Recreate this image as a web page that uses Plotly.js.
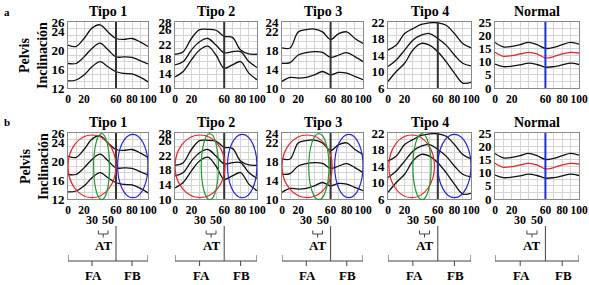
<!DOCTYPE html>
<html><head><meta charset="utf-8">
<script src="https://cdn.plot.ly/plotly-3.0.1.min.js"></script>
<style>body{margin:0;background:#fff}#chart{width:589px;height:285px}</style>
</head><body><div id="chart"></div>
<script>
// ---- data ----
const pct = [0, 10, 20, 30, 40, 50, 60, 70, 80, 90, 100];
const titles = ['Tipo 1', 'Tipo 2', 'Tipo 3', 'Tipo 4', 'Normal'];

const tipo1Top = [21.1, 20.8, 22.5, 24.7, 25.4, 23.9, 22.5, 22.3, 22.5, 21.8, 20.8];
const tipo1Mid = [17.2, 17.2, 18.6, 20.4, 21.5, 20.1, 18.6, 18.6, 18.5, 17.8, 17.1];
const tipo1Low = [13.5, 13.7, 14.75, 16.5, 17.6, 16.5, 15.45, 15.1, 15.0, 14.3, 13.3];

const tipo2Top = [19.2, 19.9, 23.5, 25.9, 26.0, 25.75, 24.1, 23.8, 20.35, 19.3, 19.2];
const tipo2Mid = [16.3, 17.2, 20.35, 22.6, 23.5, 21.7, 19.6, 19.9, 19.9, 17.2, 15.6];
const tipo2Low = [13.0, 14.5, 17.65, 20.35, 21.4, 19.0, 15.4, 16.3, 17.2, 14.05, 12.25];

const tipo3Top = [18.5, 18.5, 21.9, 22.4, 22.5, 21.9, 20.3, 21.55, 21.9, 20.5, 19.45];
const tipo3Mid = [15.25, 15.4, 17.0, 17.5, 17.7, 17.55, 16.5, 17.0, 17.5, 16.65, 15.6];
const tipo3Low = [11.4, 12.25, 12.1, 12.25, 12.8, 13.5, 12.8, 13.3, 13.15, 12.45, 11.75];

const tipo4Top = [15.2, 16.4, 19.2, 20.4, 21.4, 21.8, 21.8, 21.2, 19.2, 16.8, 15.75];
const tipo4Mid = [11.2, 12.8, 15.2, 17.6, 18.8, 19.2, 18.0, 16.4, 14.0, 12.0, 11.35];
const tipo4Low = [7.6, 10.0, 12.0, 15.2, 16.8, 16.4, 14.8, 12.4, 9.6, 7.2, 7.35];

const normalTop = [17.25, 15.6, 15.75, 16.4, 17.25, 16.4, 15.0, 15.4, 16.4, 17.25, 16.6];
const normalMid = [13.5, 12.0, 12.25, 12.9, 13.5, 12.9, 11.4, 11.9, 12.9, 13.5, 13.25];
const normalLow = [9.1, 8.1, 8.25, 8.75, 9.4, 8.9, 7.9, 8.1, 8.75, 9.4, 8.9];

const yRanges = [[12, 26], [10, 28], [10, 24], [6, 22], [0, 25]];
const yTickVals = [
  [12, 16, 20, 24, 26],
  [10, 14, 18, 22, 26, 28],
  [10, 14, 18, 22, 24],
  [6, 10, 14, 18, 22],
  [0, 5, 10, 15, 20, 25]
];
const xTickVals = [0, 20, 60, 80, 100];
const phaseSplit = 60;            // toe-off at 60 %
const atLabels = [30, 50];        // "30 50"
const atSpan = [38, 50];          // AT bracket
const faTick = 30, fbTick = 80;   // FA / FB bracket ticks

// ellipses in row b: [x0, x1] for red (FA), green (AT), blue (FB)
const redSpan = [[0, 60], [0, 61], [0, 62], [1, 56]];
const greenSpan = [[32, 52], [32, 53], [33, 58], [30, 52]];
const blueSpan = [[62, 100], [64, 100], [65, 100], [60, 100]];

const series = [
  [tipo1Top, tipo1Mid, tipo1Low],
  [tipo2Top, tipo2Mid, tipo2Low],
  [tipo3Top, tipo3Mid, tipo3Low],
  [tipo4Top, tipo4Mid, tipo4Low],
  [normalTop, normalMid, normalLow]
];

// ---- layout ----
const W = 589, H = 285;
const colPx = [[68, 148], [175, 257], [282, 363], [388, 471], [495, 579]];
const rowPx = [[22, 88], [133, 199]];
const FONT = 'Liberation Serif';
const py = p => 1 - p / H;

const traces = [];
const layout = {
  width: W, height: H,
  margin: {l: 0, r: 0, t: 0, b: 0},
  paper_bgcolor: '#fff', plot_bgcolor: '#fff',
  showlegend: false,
  font: {family: FONT, color: '#000', size: 12},
  shapes: [], annotations: []
};

for (let r = 0; r < 2; r++) {
  for (let c = 0; c < 5; c++) {
    const n = r * 5 + c + 1;
    const xa = n === 1 ? 'x' : 'x' + n;
    const ya = n === 1 ? 'y' : 'y' + n;
    const xk = n === 1 ? 'xaxis' : 'xaxis' + n;
    const yk = n === 1 ? 'yaxis' : 'yaxis' + n;
    const yr = yRanges[c];
    layout[xk] = {
      domain: [colPx[c][0] / W, colPx[c][1] / W],
      anchor: ya, range: [0, 100],
      tickmode: 'array', tickvals: xTickVals, tickangle: 0,
      ticks: '', showgrid: false, zeroline: false,
      showline: true, mirror: true, linecolor: '#8a8a8a', linewidth: 1,
      tickfont: {family: FONT, size: 11.5, weight: 'bold', color: '#000'},
      ticklabelstandoff: 0,
      minor: {tickmode: 'linear', tick0: 0, dtick: 10, showgrid: true, gridcolor: '#d4d4d4', gridwidth: 1, ticks: ''},
      fixedrange: true
    };
    layout[yk] = {
      domain: [py(rowPx[r][1]), py(rowPx[r][0])],
      anchor: xa, range: yr,
      tickmode: 'array', tickvals: yTickVals[c],
      ticks: '', showgrid: false, zeroline: false,
      showline: true, mirror: true, linecolor: '#8a8a8a', linewidth: 1,
      tickfont: {family: FONT, size: 13, weight: 'bold', color: '#000'},
      ticklabelstandoff: 0,
      minor: {tickmode: 'linear', tick0: yr[0], dtick: (yr[1] - yr[0]) / 10, showgrid: true, gridcolor: '#d4d4d4', gridwidth: 1, ticks: ''},
      fixedrange: true
    };
    series[c].forEach((ys, i) => {
      traces.push({
        type: 'scatter', mode: 'lines', x: pct, y: ys,
        xaxis: xa, yaxis: ya,
        line: {color: (c === 4 && i === 1) ? '#e8262b' : '#111', width: 1.3, shape: 'spline', smoothing: 1},
        hoverinfo: 'skip'
      });
    });
    // vertical line at toe-off
    layout.shapes.push({
      type: 'line', xref: xa, yref: ya + ' domain', x0: phaseSplit, x1: phaseSplit, y0: 0, y1: 1,
      line: {color: c === 4 ? '#1f2fd8' : '#333', width: 2}, layer: 'above'
    });
    // titles
    layout.annotations.push({
      text: '<b>' + titles[c] + '</b>', xref: 'paper', yref: 'paper',
      x: (colPx[c][0] + colPx[c][1]) / 2 / W, y: py(rowPx[r][0] - 11),
      showarrow: false, font: {family: FONT, size: 14, color: '#000'},
      xanchor: 'center', yanchor: 'middle'
    });
    // ellipses row b
    if (r === 1 && c < 4) {
      const ell = (span, color, y0, y1) => layout.shapes.push({
        type: 'circle', xref: xa, yref: ya + ' domain',
        x0: span[0], x1: span[1], y0: y0, y1: y1,
        line: {color: color, width: 1.2}, layer: 'above'
      });
      ell(redSpan[c], '#e8262b', 0.02, 0.97);
      ell(greenSpan[c], '#1e9a2e', -0.01, 0.99);
      ell(blueSpan[c], '#2626d8', 0.02, 0.98);
    }
    // bottom annotations under row b
    if (r === 1) {
      const ln = (x0, x1, p0, p1) => layout.shapes.push({
        type: 'line', xref: xa, yref: 'paper', x0: x0, x1: x1, y0: py(p0), y1: py(p1),
        line: {color: '#444', width: 1}
      });
      atLabels.forEach(v => layout.annotations.push({
        text: '<b>' + v + '</b>', xref: xa, yref: 'paper', x: v, y: py(220),
        showarrow: false, font: {family: FONT, size: 12, color: '#000'}, xanchor: 'center', yanchor: 'middle'
      }));
      const atMid = (atSpan[0] + atSpan[1]) / 2;
      ln(atSpan[0], atSpan[0], 230.5, 234);
      ln(atSpan[1], atSpan[1], 230.5, 234);
      ln(atSpan[0], atSpan[1], 234, 234);
      ln(atMid, atMid, 234, 237.5);
      layout.annotations.push({
        text: '<b>AT</b>', xref: xa, yref: 'paper', x: atMid, y: py(245),
        showarrow: false, font: {family: FONT, size: 13, color: '#000'}, xanchor: 'center', yanchor: 'middle'
      });
      ln(phaseSplit, phaseSplit, 226, 261);
      ln(0, 0, 255, 261);
      ln(100, 100, 255, 261);
      ln(0, 100, 261, 261);
      ln(faTick, faTick, 261, 266);
      ln(fbTick, fbTick, 261, 266);
      layout.annotations.push({
        text: '<b>FA</b>', xref: xa, yref: 'paper', x: faTick + 2, y: py(275.5),
        showarrow: false, font: {family: FONT, size: 13, color: '#000'}, xanchor: 'center', yanchor: 'middle'
      });
      layout.annotations.push({
        text: '<b>FB</b>', xref: xa, yref: 'paper', x: fbTick + 1, y: py(275.5),
        showarrow: false, font: {family: FONT, size: 13, color: '#000'}, xanchor: 'center', yanchor: 'middle'
      });
    }
  }
  // y axis title and panel letter
  layout.annotations.push({
    text: '<b>Pelvis<br>Inclinación</b>', xref: 'paper', yref: 'paper',
    x: 34 / W, y: py(rowPx[r][0] + 34), textangle: -90,
    showarrow: false, font: {family: FONT, size: 14, color: '#000'},
    xanchor: 'center', yanchor: 'middle'
  });
  layout.annotations.push({
    text: '<b>' + (r === 0 ? 'a' : 'b') + '</b>', xref: 'paper', yref: 'paper',
    x: 7 / W, y: py(r === 0 ? 12 : 122),
    showarrow: false, font: {family: FONT, size: 11, color: '#000'},
    xanchor: 'center', yanchor: 'middle'
  });
}

Plotly.newPlot('chart', traces, layout, {displayModeBar: false, staticPlot: true});
</script>
</body></html>
